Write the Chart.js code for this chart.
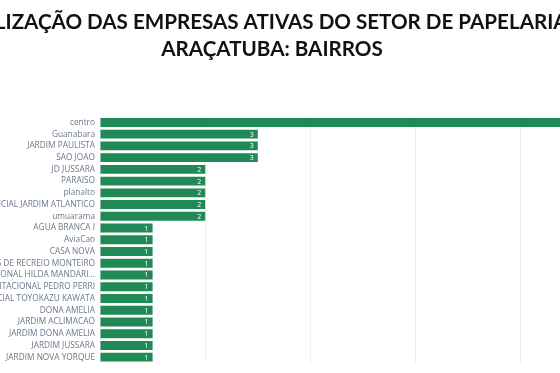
<!DOCTYPE html>
<html>
<head>
<meta charset="utf-8">
<script src="https://cdn.jsdelivr.net/npm/chart.js@4/dist/chart.umd.min.js"></script>
<style>
  html, body { margin: 0; padding: 0; background: #fff; overflow: hidden; }
  #wrap { position: absolute; left: -100px; top: 0; width: 744px; height: 373px; }
</style>
</head>
<body>
<div id="wrap"><canvas id="barChart"></canvas></div>
<script>
// =========================
// Data
// =========================
const titleLines = [
    "LOCALIZAÇÃO DAS EMPRESAS ATIVAS DO SETOR DE PAPELARIA EM",
    "ARAÇATUBA: BAIRROS"
];

const bairros = [
    "centro",
    "Guanabara",
    "JARDIM PAULISTA",
    "SAO JOAO",
    "JD JUSSARA",
    "PARAISO",
    "planalto",
    "RESIDENCIAL JARDIM ATLANTICO",
    "umuarama",
    "AGUA BRANCA I",
    "AviaCao",
    "CASA NOVA",
    "CHACARAS DE RECREIO MONTEIRO",
    "CONJUNTO HABITACIONAL HILDA MANDARI...",
    "CONJUNTO HABITACIONAL PEDRO PERRI",
    "RESIDENCIAL TOYOKAZU KAWATA",
    "DONA AMELIA",
    "JARDIM ACLIMACAO",
    "JARDIM DONA AMELIA",
    "JARDIM JUSSARA",
    "JARDIM NOVA YORQUE"
];

const empresas = [9, 3, 3, 3, 2, 2, 2, 2, 2, 1, 1, 1, 1, 1, 1, 1, 1, 1, 1, 1, 1];

const xTicks = [0, 2, 4, 6, 8, 10];

// =========================
// Value labels inside bars
// =========================
const valueLabels = {
    id: "valueLabels",
    afterDatasetsDraw(chart) {
        const ctx = chart.ctx;
        const meta = chart.getDatasetMeta(0);
        ctx.save();
        ctx.font = "7px 'Open Sans', sans-serif";
        ctx.fillStyle = "#ffffff";
        ctx.textAlign = "right";
        ctx.textBaseline = "middle";
        meta.data.forEach((bar, i) => {
            ctx.fillText(String(empresas[i]), bar.x - 4, bar.y + 0.5);
        });
        ctx.restore();
    }
};

// =========================
// Chart
// =========================
const barChart = new Chart(document.getElementById("barChart"), {
    type: "bar",
    data: {
        labels: bairros,
        datasets: [{
            data: empresas,
            backgroundColor: "#1f8a56",
            categoryPercentage: 0.76,
            barPercentage: 1
        }]
    },
    options: {
        indexAxis: "y",
        responsive: true,
        maintainAspectRatio: false,
        animation: false,
        layout: { padding: { top: 0, right: 18, bottom: 7, left: 18 } },
        plugins: {
            legend: { display: false },
            tooltip: { enabled: false },
            title: {
                display: true,
                text: titleLines,
                color: "#111111",
                font: { family: "Lato", size: 20.6, weight: "bold", lineHeight: 1.3 },
                padding: { top: 9, bottom: 54 }
            }
        },
        scales: {
            x: {
                min: 0,
                max: 10,
                afterBuildTicks(scale) {
                    scale.ticks = xTicks.map(v => ({ value: v }));
                },
                ticks: { display: false },
                grid: { color: "#eeeeee", lineWidth: 1, drawTicks: false },
                border: { display: false }
            },
            y: {
                afterFit(scale) {
                    scale.width = 182;
                },
                ticks: {
                    color: "#6a788c",
                    padding: 5,
                    autoSkip: false,
                    font: { family: "'Open Sans'", size: 8.3 }
                },
                grid: { display: false, drawTicks: false },
                border: { display: false }
            }
        }
    },
    plugins: [valueLabels]
});
</script>
</body>
</html>
